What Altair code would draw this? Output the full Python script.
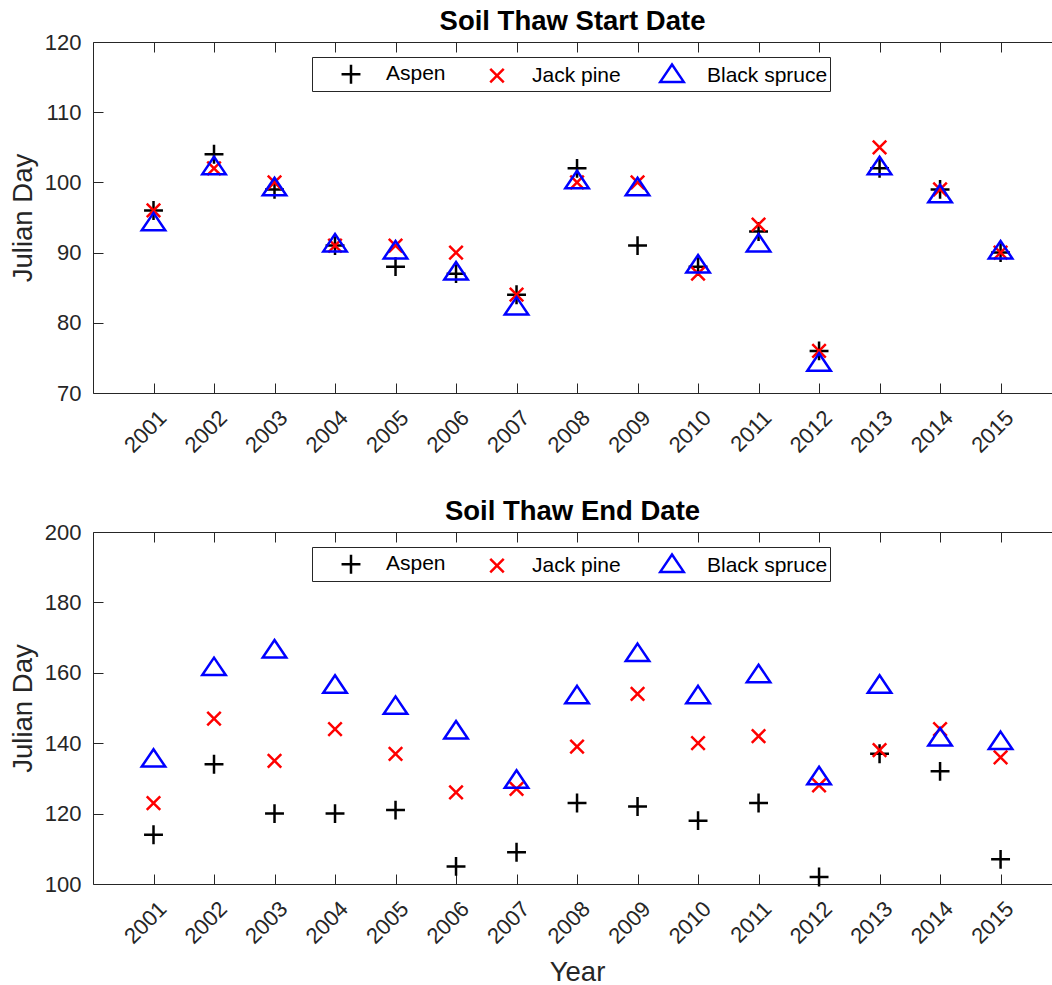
import altair as alt
import pandas as pd

# Years on the x axis
years = [2001, 2002, 2003, 2004, 2005, 2006, 2007, 2008, 2009, 2010, 2011, 2012, 2013, 2014, 2015]
species = ["Aspen", "Jack pine", "Black spruce"]

# Soil thaw start (Julian day)
start_aspen = [96, 104, 99, 91, 88, 87, 84, 102, 91, 88, 93, 76, 102, 99, 90]
start_jack_pine = [96, 102, 100, 91, 91, 90, 84, 100, 100, 87, 94, 76, 105, 99, 90]
start_black_spruce = [94, 102, 99, 91, 90, 87, 82, 100, 99, 88, 91, 74, 102, 98, 90]

# Soil thaw end (Julian day)
end_aspen = [114, 134, 120, 120, 121, 105, 109, 123, 122, 118, 123, 102, 137, 132, 107]
end_jack_pine = [123, 147, 135, 144, 137, 126, 127, 139, 154, 140, 142, 128, 138, 144, 136]
end_black_spruce = [135, 161, 166, 156, 150, 143, 129, 153, 165, 153, 159, 130, 156, 141, 140]

start_ticks = [70, 80, 90, 100, 110, 120]
end_ticks = [100, 120, 140, 160, 180, 200]

INK = "#262626"
FONT = "Liberation Sans"

# marker outlines in the [-1, 1] unit square: plus, cross, triangle (centroid at origin)
PLUS = "M-0.7,0H0.7M0,-0.7V0.7"
CROSS = "M-0.5,-0.5L0.5,0.5M0.5,-0.5L-0.5,0.5"
TRIANGLE = "M0,-0.86L0.87,0.43L-0.87,0.43Z"


def long_table(series):
    rows = []
    for name, values in zip(species, series):
        for yr, v in zip(years, values):
            rows.append({"Year": yr, "Species": name, "Day": v})
    return pd.DataFrame(rows)


def panel(df, title, y_domain, y_ticks, height, show_xtitle):
    xscale = alt.Scale(domain=[2000, 2015.85], nice=False, zero=False)
    yscale = alt.Scale(domain=y_domain, nice=False, zero=False)

    # ticks point into the plot area (negative length)
    inward = alt.ExprRef(expr="-10")

    x_bottom = alt.Axis(
        orient="bottom", values=years, format="d",
        labelAngle=315, labelAlign="right", labelBaseline="middle",
        labelPadding=31, labelOffset=9, labelFontSize=22, labelColor=INK,
        labelFont=FONT, labelOverlap=False,
        tickSize=inward, tickColor=INK, tickWidth=1,
        domainColor=INK, domainWidth=1, grid=False, minExtent=0,
        title="Year" if show_xtitle else None,
        titleFontSize=27.5, titleFontWeight="normal", titleColor=INK, titleFont=FONT,
        titleX=484, titleY=96, titleBaseline="alphabetic", titleAlign="center",
    )
    y_left = alt.Axis(
        orient="left", values=y_ticks,
        labelPadding=22, labelFontSize=22, labelColor=INK, labelFont=FONT,
        tickSize=inward, tickColor=INK, tickWidth=1,
        domainColor=INK, domainWidth=1, grid=False,
        title="Julian Day", titleFontSize=27.5, titleFontWeight="normal",
        titleColor=INK, titleFont=FONT, titleAngle=270,
        titleX=-62, titleY=height / 2, titleBaseline="alphabetic", titleAlign="center",
    )
    x_top = alt.Axis(
        orient="top", values=years, labels=False, title=None,
        tickSize=inward, tickColor=INK, tickWidth=1,
        domainColor=INK, domainWidth=1, grid=False, minExtent=0, maxExtent=0,
    )

    legend = alt.Legend(
        title=None, orient="none", legendX=219, legendY=15, direction="horizontal",
        strokeColor=INK, fillColor="white", padding=2,
        symbolSize=729, symbolStrokeWidth=2.5, symbolOffset=22,
        labelFontSize=21, labelColor="black", labelFont=FONT, labelOffset=20,
        columnPadding=14,
    )

    points = alt.Chart(df).mark_point(filled=False, size=729, strokeWidth=2.5, opacity=1).encode(
        x=alt.X("Year:Q", scale=xscale, axis=x_bottom),
        y=alt.Y("Day:Q", scale=yscale, axis=y_left),
        color=alt.Color("Species:N", scale=alt.Scale(domain=species, range=["#000000", "#ff0000", "#0000ff"]), legend=legend),
        shape=alt.Shape("Species:N", scale=alt.Scale(domain=species, range=[PLUS, CROSS, TRIANGLE]), legend=legend),
    )
    frame_top = alt.Chart(df).mark_point(opacity=0).encode(
        x=alt.X("Year:Q", scale=xscale, axis=x_top),
        y=alt.Y("Day:Q", scale=yscale, axis=None),
    )
    return alt.layer(points, frame_top).resolve_axis(x="independent", y="independent").properties(
        width=959, height=height,
        title=alt.TitleParams(title, fontSize=27.5, fontWeight="bold", font=FONT, color="black",
                              anchor="middle", offset=-26, baseline="alphabetic"),
    )


top = panel(long_table([start_aspen, start_jack_pine, start_black_spruce]),
            "Soil Thaw Start Date", [70, 120], start_ticks, 351, False)
bottom = panel(long_table([end_aspen, end_jack_pine, end_black_spruce]),
               "Soil Thaw End Date", [100, 200], end_ticks, 352, True)

chart = alt.vconcat(top, bottom, spacing=40).resolve_scale(
    x="independent", y="independent", color="independent", shape="independent"
).properties(
    padding={"left": 9, "top": 7, "right": 0, "bottom": 0},
    background="white",
).configure_view(stroke=None)

chart.save("out.html", embed_options={"renderer": "svg", "actions": False})
